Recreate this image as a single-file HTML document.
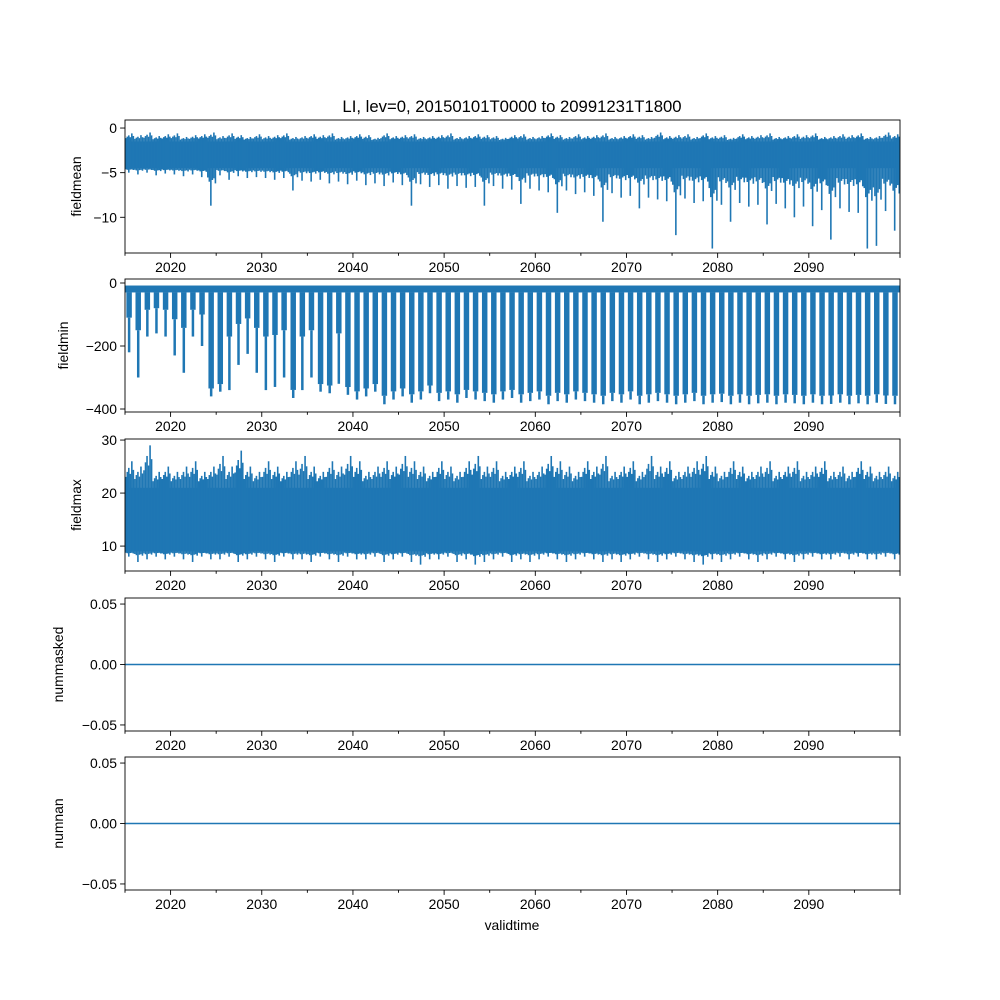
<!DOCTYPE html>
<html><head><meta charset="utf-8"><style>
html,body{margin:0;padding:0;background:#fff}
svg{display:block;font-family:"Liberation Sans","DejaVu Sans",sans-serif}
</style></head><body>
<svg id="fig" width="1000" height="1000" viewBox="0 0 1000 1000">
<text x="512" y="112" font-size="16.7" text-anchor="middle">LI, lev=0, 20150101T0000 to 20991231T1800</text>
<text x="512" y="930" font-size="13.9" text-anchor="middle">validtime</text>
</svg>
<script>
// ---- data ----
const years = [];
for (let y = 2015; y <= 2099; y++) years.push(y);
const xTicks = [2020,2030,2040,2050,2060,2070,2080,2090];
// fieldmean yearly extremes
const meanLow = [-5,-5.2,-5,-5.3,-5.1,-5.2,-5.4,-5.2,-5.5,-8.7,-5.3,-5.8,-5.4,-5.6,-5.5,-5.6,-5.8,-5.6,-7,-5.9,-6,-5.8,-6.2,-6,-6.3,-5.9,-6.4,-6.2,-6.5,-6.1,-6.4,-8.7,-6.3,-6.6,-6.4,-6.8,-6.5,-6.7,-6.6,-8.7,-6.5,-6.8,-6.9,-8.5,-6.8,-7,-7.2,-9.5,-7,-7.4,-7.2,-7.6,-10.5,-7.3,-7.8,-7.6,-9,-7.8,-8,-8.2,-12,-7.9,-8.4,-8.2,-13.5,-8.6,-10.5,-8.4,-8.8,-8.6,-10.8,-8.5,-9,-10,-8.8,-11,-9.2,-12.5,-9,-9.4,-9.5,-13.5,-13.2,-9.3,-11.5];
const meanHigh = [-0.6,-0.8,-0.5,-0.9,-0.7,-0.6,-1,-0.8,-0.7,-0.5,-0.9,-0.6,-0.8,-1,-0.7,-0.9,-0.8,-0.6,-1,-0.9,-0.7,-0.8,-0.6,-1,-0.9,-0.7,-0.8,-1.1,-0.6,-0.9,-0.8,-0.7,-1,-0.9,-0.8,-0.6,-1,-0.9,-0.7,-0.8,-0.9,-1.1,-0.8,-0.7,-1,-0.9,-0.6,-0.8,-1,-0.7,-0.9,-0.8,-0.6,-1,-0.9,-0.7,-0.8,-1,-0.5,-0.9,-0.8,-0.7,-1,-0.6,-0.9,-0.8,-1.1,-0.7,-0.9,-0.8,-0.6,-1,-0.9,-0.7,-0.8,-0.6,-1,-0.9,-0.7,-0.8,-0.6,-1,-0.9,-0.5,-0.7];
const meanBand = [-4.5,-1.5];
// fieldmin yearly troughs
const minLow = [-220,-300,-170,-160,-170,-230,-285,-170,-200,-360,-345,-340,-260,-225,-285,-340,-330,-300,-365,-340,-300,-345,-350,-320,-355,-370,-360,-345,-385,-370,-360,-380,-370,-350,-375,-370,-380,-365,-370,-375,-380,-370,-365,-380,-375,-370,-385,-375,-380,-370,-375,-380,-385,-375,-380,-370,-385,-380,-375,-380,-385,-380,-375,-385,-380,-378,-385,-380,-385,-382,-380,-385,-380,-382,-385,-380,-385,-384,-380,-385,-382,-385,-380,-384,-385];
const minBand = [-30,-8];
// fieldmax yearly extremes
const maxHigh = [26,25,29,24,25,24,25,26,24,25,27,25,28,25,24,26,25,24,26,27,25,24,26,25,27,26,24,25,26,25,27,26,25,24,26,25,24,26,27,25,26,24,25,26,24,25,27,26,25,24,26,25,27,24,25,26,24,27,25,26,24,25,26,27,25,24,26,25,24,25,26,24,25,26,24,25,26,24,25,24,26,25,24,25,24];
const maxLow = [8,7,7.5,8,7.5,8,7.5,7,8,7.5,7.5,8,7,7.5,8,7.5,7,8,7.5,7.5,7,8,7.5,7,8,7.5,7.5,8,7,7.5,8,7,6.5,7.5,7.5,8,7,7.5,6.5,7,7.5,8,7,7.5,7,7.5,8,7.5,7,7.5,8,7.5,7,7.5,7,7.5,8,7.5,7,7.5,8,7.5,7,6.5,7.5,7,7.5,8,7.5,7,7.5,8,7.5,7,7.5,8,7.5,7.5,8,7.5,8,7.5,7.5,8,7.5];
const maxBand = [9,21];
const zeroSeries = [0,0];
// ---- layout ----
const NS = "http://www.w3.org/2000/svg";
const svg = document.getElementById('fig');
const X0 = 125, X1 = 900, T0 = 2015.0, T1 = 2100.0;
const xs = t => X0 + (t - T0) / (T1 - T0) * (X1 - X0);
const C = '#1f77b4';
function mk(tag, attrs, parent){ const e = document.createElementNS(NS, tag); for (const k in attrs) e.setAttribute(k, attrs[k]); (parent||svg).appendChild(e); return e; }
const panels = [
 {name:'fieldmean', top:120, bot:253, ymin:-14.0, ymax:0.9, ticks:[0,-5,-10], fmt:v=>v===0?'0':'\u2212'+Math.abs(v)},
 {name:'fieldmin', top:279, bot:412, ymin:-409.5, ymax:12.7, ticks:[0,-200,-400], fmt:v=>v===0?'0':'\u2212'+Math.abs(v)},
 {name:'fieldmax', top:439, bot:571, ymin:5.3, ymax:30.2, ticks:[10,20,30], fmt:v=>String(v)},
 {name:'nummasked', top:598, bot:731, ymin:-0.055, ymax:0.055, ticks:[0.05,0,-0.05], fmt:v=>v<0?'\u2212'+Math.abs(v).toFixed(2):v.toFixed(2)},
 {name:'numnan', top:757, bot:890, ymin:-0.055, ymax:0.055, ticks:[0.05,0,-0.05], fmt:v=>v<0?'\u2212'+Math.abs(v).toFixed(2):v.toFixed(2)}
];
panels.forEach((p, i) => {
  const ys = v => p.bot - (v - p.ymin) / (p.ymax - p.ymin) * (p.bot - p.top);
  const g = mk('g', {});
  
  
  const clipId = 'clip' + i;
  const cp = mk('clipPath', {id: clipId}, g);
  mk('rect', {x:X0, y:p.top, width:X1-X0, height:p.bot-p.top}, cp);
  const sg = mk('g', {'clip-path':'url(#'+clipId+')'}, g);
  
  
  const w = xs(T0+1) - xs(T0);
  if (p.name === 'fieldmean' || p.name === 'fieldmax') {
    const band = p.name === 'fieldmean' ? meanBand : maxBand;
    const lo = p.name === 'fieldmean' ? meanLow : maxLow;
    const hi = p.name === 'fieldmean' ? meanHigh : maxHigh;
    const r = mk('rect', {x:X0, y:ys(band[1]), width:X1-X0, height:ys(band[0])-ys(band[1]), fill:C}, sg);
    
    
    years.forEach((y, k) => {
      for (let s = 0; s < 6; s++) {
        const t = y + (s + 0.5) / 6;
        const f = [0.55,0.8,1,0.7,0.6,0.9][s];
        const vlo = band[0] + (lo[k]-band[0]) * (s===2?1:f*0.45);
        const vhi = band[1] + (hi[k]-band[1]) * (s===4?1:f*0.75);
        const l = mk('line', {x1:xs(t), x2:xs(t), y1:ys(vhi), y2:ys(vlo), stroke:C, 'stroke-width':1.6}, sg);
        
        
      }
    });
  } else if (p.name === 'fieldmin') {
    const r = mk('rect', {x:X0, y:ys(minBand[1]), width:X1-X0, height:ys(minBand[0])-ys(minBand[1]), fill:C}, sg);
    
    
    years.forEach((y, k) => {
      const t = y + 0.45;
      const wideDepth = minLow[k] < -340 ? minLow[k] * 0.93 : minLow[k] * 0.5;
      const tr = mk('rect', {x:xs(t)-w*0.3, y:ys(minBand[0]), width:w*0.6, height:ys(wideDepth)-ys(minBand[0]), fill:C}, sg);
      
      
      const tip = mk('line', {x1:xs(t), x2:xs(t), y1:ys(wideDepth), y2:ys(minLow[k]), stroke:C, 'stroke-width':2.5}, sg);
      
      
    });
  } else {
    const l = mk('line', {x1:xs(T0), x2:xs(T1), y1:ys(zeroSeries[0]), y2:ys(zeroSeries[1]), stroke:C, 'stroke-width':1.5}, sg);
    
    
  }
  const fr = mk('rect', {x:X0, y:p.top, width:X1-X0, height:p.bot-p.top, fill:'none', stroke:'#000', 'stroke-width':0.9}, g);
  
  
  for (let t = 2015; t <= 2100; t += 5) {
    const major = t % 10 === 0;
    mk('line', {x1:xs(t), x2:xs(t), y1:p.bot, y2:p.bot + (major?4.9:2.8), stroke:'#000', 'stroke-width':0.9}, g);
  }
  xTicks.forEach(t => {
    const tx = mk('text', {x:xs(t), y:p.bot+19, 'font-size':13.9, 'text-anchor':'middle'}, g);
    tx.textContent = String(t);
    
    
  });
  p.ticks.forEach(v => {
    mk('line', {x1:X0-4.9, x2:X0, y1:ys(v), y2:ys(v), stroke:'#000', 'stroke-width':0.9}, g);
    const tx = mk('text', {x:X0-8, y:ys(v)+5, 'font-size':13.9, 'text-anchor':'end'}, g);
    tx.textContent = p.fmt(v);
    
    
  });
  const maxW = p.name.startsWith('num') ? 45 : (p.name==='fieldmin'?40:27);
  const cy = (p.top + p.bot) / 2;
  const yl = mk('text', {x:0, y:0, 'font-size':13.9, 'text-anchor':'middle', transform:'translate('+(X0-maxW-17)+','+cy+') rotate(-90)'}, g);
  yl.textContent = p.name;
  
  
});
</script>
</body></html>
